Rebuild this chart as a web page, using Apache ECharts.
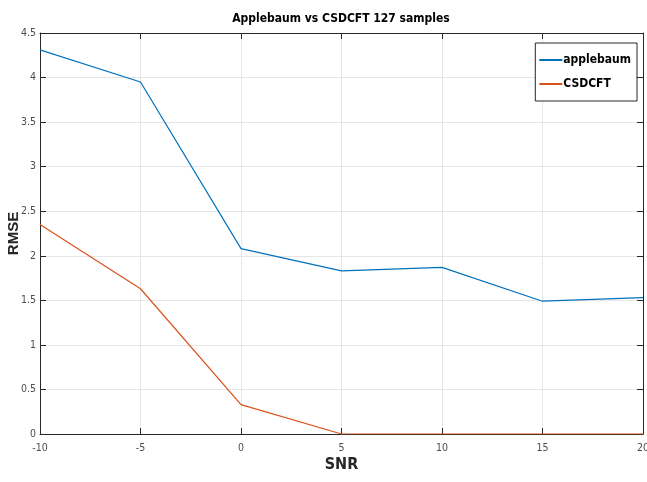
<!DOCTYPE html>
<html><head><meta charset="utf-8">
<script src="https://cdn.jsdelivr.net/npm/echarts@6/dist/echarts.min.js"></script>
<style>html,body{margin:0;padding:0;background:#fff}#c{width:647px;height:482px}</style>
</head><body><div id="c"></div>
<script>
const snr = [-10, -5, 0, 5, 10, 15, 20];
const applebaum = [4.31, 3.95, 2.08, 1.83, 1.87, 1.49, 1.53];
const csdcft = [2.35, 1.63, 0.33, 0.0, 0.0, 0.0, 0.0];
const yTicks = [0, 0.5, 1, 1.5, 2, 2.5, 3, 3.5, 4, 4.5];

const FONT = '"DejaVu Sans Condensed", "Liberation Sans Narrow", "Liberation Sans", sans-serif';
const chart = echarts.init(document.getElementById('c'));
const tickStyle = {show: true, inside: true, length: 6, lineStyle: {color: '#262626', width: 1}};
const axLine = {show: true, onZero: false, lineStyle: {color: '#262626', width: 1}};
chart.setOption({
  animation: false,
  backgroundColor: '#fff',
  title: {text: 'Applebaum vs CSDCFT 127 samples', left: 336, top: 8, textAlign: 'center',
    textStyle: {fontFamily: FONT, fontWeight: 'bold', fontSize: 12, color: '#000'}},
  grid: {left: 40, right: 4, top: 33, bottom: 48, outerBoundsMode: 'none', containLabel: false},
  legend: {
    right: 10, top: 43, orient: 'vertical', itemWidth: 23, itemHeight: 2, itemGap: 12,
    padding: [11, 6, 11, 4],
    borderColor: '#262626', borderWidth: 1, backgroundColor: '#fff',
    textStyle: {fontFamily: FONT, fontWeight: 'bold', fontSize: 12, color: '#000', padding: [0,0,0,-4]},
    data: [{name: 'applebaum', icon: 'rect'}, {name: 'CSDCFT', icon: 'rect'}]
  },
  xAxis: [{
    type: 'value', min: -10, max: 20, interval: 5, position: 'bottom',
    name: 'SNR', nameLocation: 'middle', nameGap: 23, nameMoveOverlap: false,
    nameTextStyle: {fontFamily: FONT, fontWeight: 'bold', fontSize: 16, color: '#262626'},
    axisLine: axLine, axisTick: tickStyle,
    axisLabel: {fontFamily: FONT, fontSize: 10.5, color: '#4d4d4d', margin: 9},
    splitLine: {show: true, lineStyle: {color: '#e6e6e6', width: 1}}
  }, {
    type: 'value', min: -10, max: 20, interval: 5, position: 'top',
    axisLine: axLine, axisTick: tickStyle, axisLabel: {show: false}, splitLine: {show: false}
  }],
  yAxis: [{
    type: 'value', min: 0, max: 4.5, interval: 0.5, position: 'left',
    name: 'RMSE', nameLocation: 'middle', nameGap: 19, nameRotate: 90, nameMoveOverlap: false,
    nameTextStyle: {fontFamily: '"Liberation Sans", sans-serif', fontWeight: 'bold', fontSize: 15, color: '#262626'},
    axisLine: axLine, axisTick: tickStyle,
    axisLabel: {fontFamily: FONT, fontSize: 10.5, color: '#4d4d4d', margin: 4,
      formatter: v => (yTicks.includes(v) ? String(v) : '')},
    splitLine: {show: true, lineStyle: {color: '#e6e6e6', width: 1}}
  }, {
    type: 'value', min: 0, max: 4.5, interval: 0.5, position: 'right',
    axisLine: axLine, axisTick: tickStyle, axisLabel: {show: false}, splitLine: {show: false}
  }],
  series: [
    {name: 'applebaum', type: 'line', data: snr.map((x, i) => [x, applebaum[i]]),
     symbol: 'none', lineStyle: {color: '#0072BD', width: 1.2}, itemStyle: {color: '#0072BD'}},
    {name: 'CSDCFT', type: 'line', data: snr.map((x, i) => [x, csdcft[i]]),
     symbol: 'none', lineStyle: {color: '#D95319', width: 1.2}, itemStyle: {color: '#D95319'}}
  ]
});
</script></body></html>
